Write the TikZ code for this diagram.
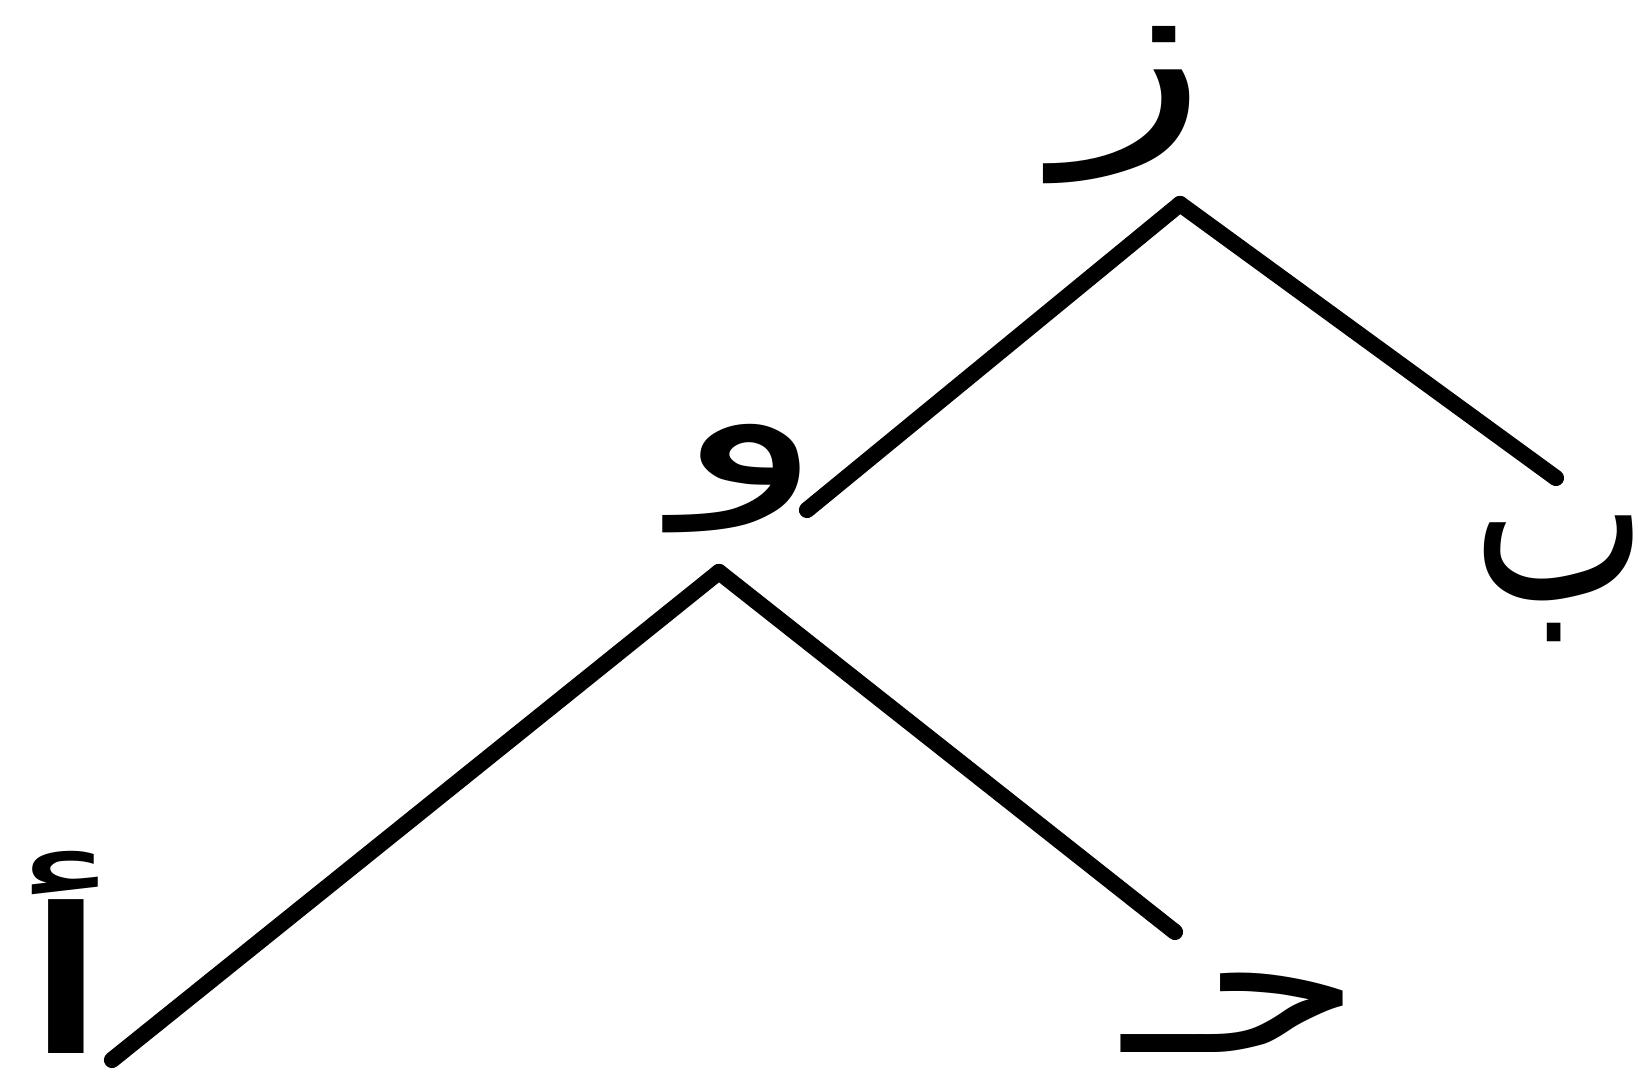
\documentclass[tikz,border=0pt]{standalone}
\usepackage{fontspec}
\newfontfamily\arabicfont[Script=Arabic]{DejaVu Sans}
\TeXXeTstate=1
\begin{document}
\begin{tikzpicture}[x=0.01cm,y=-0.01cm,
  edge/.style={line width=4.6pt,line cap=round,black},
  lbl/.style={inner sep=0pt,font=\arabicfont\fontsize{80}{80}\selectfont}]
\useasboundingbox[fill=white] (0,0) rectangle (1638,1080);
% labels
\node[lbl] (z) at (1133,105) {\scalebox{1.12}[0.79]{\beginR ز\endR}};
\node[lbl] (w) at (750,479) {\scalebox{1.09}[0.69]{\beginR و\endR}};
\node[lbl] (b) at (1560,579) {\scalebox{0.66}[0.9]{\beginR ب\endR}};
\node[lbl] (a) at (66,952) {\scalebox{1.4}[0.72]{\beginR أ\endR}};
\node[lbl] (h) at (1243,1013) {\scalebox{0.93}[0.71]{\beginR حـ\endR}};
% connector end points
\coordinate (zApex) at (1180,204);
\coordinate (zLeft) at (807,510);
\coordinate (zRight) at (1556,478);
\coordinate (wApex) at (719,572);
\coordinate (wLeft) at (112,1060);
\coordinate (wRight) at (1175,932);
\draw[edge] (zApex) -- (zLeft);
\draw[edge] (zApex) -- (zRight);
\draw[edge] (wApex) -- (wLeft);
\draw[edge] (wApex) -- (wRight);
\end{tikzpicture}
\end{document}
